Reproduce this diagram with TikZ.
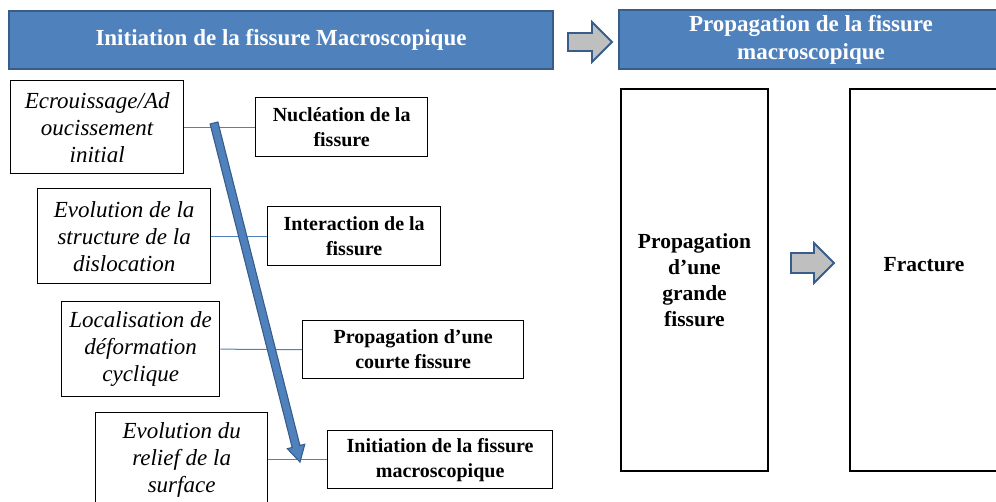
\documentclass[tikz,border=0pt]{standalone}
\usepackage{fontspec}
\setmainfont{Liberation Serif}
\usetikzlibrary{calc}
\definecolor{bannerblue}{HTML}{4F81BD}
\definecolor{bannerline}{HTML}{385D8A}
\definecolor{arrowgray}{HTML}{BFBFBF}
\tikzset{
  banner/.style={draw=bannerline, line width=2pt, fill=bannerblue, text=white,
    font=\fontsize{23}{28}\selectfont\bfseries, align=center, inner sep=0pt, anchor=north west},
  causebox/.style={draw=black, line width=1.3pt, fill=white,
    font=\fontsize{23}{27}\selectfont\itshape, align=center, inner sep=0pt, anchor=north west},
  stagebox/.style={draw=black, line width=1.3pt, fill=white,
    font=\fontsize{20}{25}\selectfont\bfseries, align=center, inner sep=0pt, anchor=north west},
  bigbox/.style={draw=black, line width=2pt, fill=white, inner sep=0pt, anchor=north west},
  bigtext/.style={font=\fontsize{21.5}{26}\selectfont\bfseries, align=center, inner sep=0pt},
  link/.style={draw=bannerblue, line width=1pt},
  blockarrow/.style={draw=bannerline, line width=1.8pt, fill=arrowgray, line join=miter},
  thickarrow/.style={draw=bannerline, line width=1.1pt, fill=bannerblue, line join=miter},
}
\begin{document}
\begin{tikzpicture}[x=1pt,y=-1pt]
\useasboundingbox (0,0) rectangle (996,501);

% banners
\node[banner, minimum width=544pt, minimum height=58pt] (ban1) at (8,10) {Initiation de la fissure Macroscopique};
\node[banner, minimum width=384pt, minimum height=59pt] (ban2) at (618,9) {Propagation de la fissure\\macroscopique};

% block arrow between banners
\draw[blockarrow] (568,33) -- (592,33) -- (592,22) -- (612,42) -- (592,62) -- (592,51) -- (568,51) -- cycle;

% left cause boxes
\node[causebox, minimum width=173pt, minimum height=93pt] (c1) at (10,80) {Ecrouissage/Ad\\oucissement\\initial};
\node[causebox, minimum width=173pt, minimum height=95pt] (c2) at (37,188) {Evolution de la\\structure de la\\dislocation};
\node[causebox, minimum width=158pt, minimum height=95pt] (c3) at (61,301) {Localisation de\\déformation\\cyclique};
\node[causebox, minimum width=172pt, minimum height=94pt] (c4) at (95,412) {Evolution du\\relief de la\\surface};

% right stage boxes
\node[stagebox, minimum width=172pt, minimum height=59pt] (s1) at (255,97) {Nucléation de la\\fissure};
\node[stagebox, minimum width=173pt, minimum height=59pt] (s2) at (267,206) {Interaction de la\\fissure};
\node[stagebox, minimum width=221pt, minimum height=58pt] (s3) at (302,320) {Propagation d’une\\courte fissure};
\node[stagebox, minimum width=225pt, minimum height=58pt] (s4) at (327,430) {Initiation de la fissure\\macroscopique};

% thin connectors
\draw[link] (c1.east) -- (s1.west);
\draw[link] (c2.east) -- (s2.west);
\draw[link] (c3.east) -- (s3.west);
\draw[link] (c4.east) -- (s4.west);

% thick diagonal arrow
\coordinate (ts) at (214,123);
\coordinate (te) at (300,462);
\coordinate (th) at ($(te)!16pt!(ts)$);
\draw[thickarrow]
  ($(ts)!4pt!90:(te)$) -- ($(th)!4pt!90:(te)$) -- ($(th)!9pt!90:(te)$) -- (te)
  -- ($(th)!9pt!-90:(te)$) -- ($(th)!4pt!-90:(te)$) -- ($(ts)!4pt!-90:(te)$) -- cycle;

% big boxes
\node[bigbox, minimum width=147pt, minimum height=382pt] (b1) at (620,88) {};
\node[bigtext] (b1t) at (b1.center) {Propagation\\d’une\\grande\\fissure};
\node[bigbox, minimum width=152pt, minimum height=382pt] (b2) at (849,88) {};
\node[bigtext] (b2t) at (924,265) {Fracture};

% block arrow between big boxes
\draw[blockarrow] (791,253) -- (814,253) -- (814,243) -- (834,263) -- (814,283) -- (814,273) -- (791,273) -- cycle;
\end{tikzpicture}
\end{document}
